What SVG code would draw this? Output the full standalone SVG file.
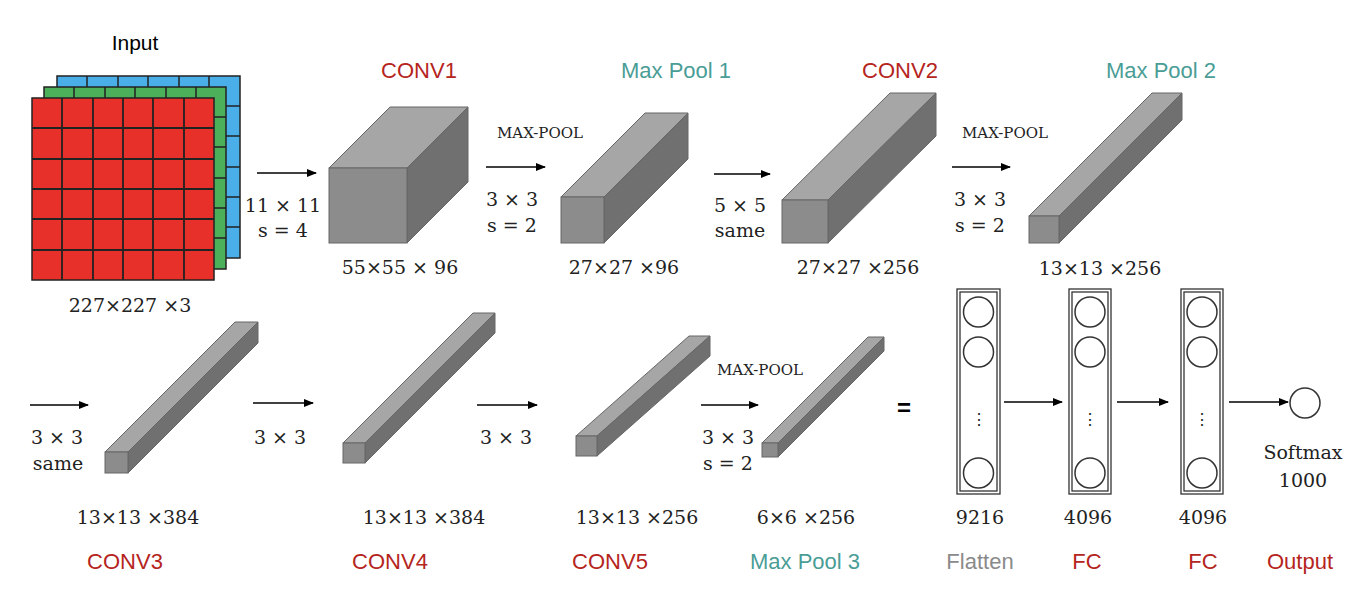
<svg xmlns="http://www.w3.org/2000/svg" width="1360" height="604" viewBox="0 0 1360 604">
<style>
.t{font-family:"Liberation Sans",Arial,sans-serif;font-size:22px;text-anchor:middle}
.r{fill:#b5251d}.g{fill:#4a9d96}
.s{font-family:"DejaVu Serif","Liberation Serif",serif;font-size:19px;text-anchor:middle;fill:#222}
.m{font-size:15px}
.f{fill:#8c8c8c;stroke:#666;stroke-width:1}.tp{fill:#a6a6a6;stroke:#666;stroke-width:1}.sd{fill:#707070;stroke:#666;stroke-width:1}
.a{stroke:#000;stroke-width:1.6;fill:none;marker-end:url(#ah)}
.col{fill:none;stroke:#333;stroke-width:1.3}
.c{fill:#fff;stroke:#333;stroke-width:1.5}
</style>
<defs>
<marker id="ah" markerWidth="10" markerHeight="8" refX="9" refY="4" orient="auto" markerUnits="userSpaceOnUse"><path d="M0,0L10,4L0,8z" fill="#000"/></marker>
</defs>
<rect width="1360" height="604" fill="#fff"/>
<g id="input">
<rect x="57" y="76" width="183" height="182" fill="#4aaee8" stroke="#222" stroke-width="1.5"/>
<path d="M57,106H240M57,136H240M57,167H240M57,197H240M57,227H240M87,76V258M118,76V258M148,76V258M179,76V258M209,76V258" stroke="#222" stroke-width="1.5"/>
<rect x="44" y="87" width="182" height="182" fill="#4caf5a" stroke="#222" stroke-width="1.5"/>
<path d="M44,117H226M44,147H226M44,178H226M44,208H226M44,238H226M74,87V269M105,87V269M135,87V269M166,87V269M196,87V269" stroke="#222" stroke-width="1.5"/>
<rect x="32" y="98" width="182" height="182" fill="#e8302a" stroke="#222" stroke-width="1.5"/>
<path d="M32,128H214M32,159H214M32,189H214M32,219H214M32,250H214M62,98V280M93,98V280M123,98V280M153,98V280M184,98V280" stroke="#222" stroke-width="1.8"/>
<text class="t" x="135" y="50" style="font-size:21px">Input</text>
<text class="s" x="130" y="312">227×227 ×3</text>
</g>
<g id="conv1">
<path class="tp" d="M329,168L390,107H468L407,168z"/><path class="sd" d="M407,168L468,107V182L407,243z"/><rect class="f" x="329" y="168" width="78" height="75"/>
<text class="t r" x="419" y="78">CONV1</text><text class="s" x="400" y="274">55×55 × 96</text>
</g>
<g id="pool1">
<path class="tp" d="M561,197L645,113H688L604,197z"/><path class="sd" d="M604,197L688,113V159L604,243z"/><rect class="f" x="561" y="197" width="43" height="46"/>
<text class="t g" x="676" y="78">Max Pool 1</text><text class="s" x="624" y="274">27×27 ×96</text>
</g>
<g id="conv2">
<path class="tp" d="M782,200L890,93H936L828,200z"/><path class="sd" d="M828,200L936,93V136L828,243z"/><rect class="f" x="782" y="200" width="46" height="43"/>
<text class="t r" x="900" y="78">CONV2</text><text class="s" x="858" y="274">27×27 ×256</text>
</g>
<g id="pool2">
<path class="tp" d="M1029,216L1152,93H1182L1059,216z"/><path class="sd" d="M1059,216L1182,93V120L1059,243z"/><rect class="f" x="1029" y="216" width="30" height="27"/>
<text class="t g" x="1161" y="78">Max Pool 2</text><text class="s" x="1100" y="275">13×13 ×256</text>
</g>
<g id="conv3">
<path class="tp" d="M105,452L235,322H258L128,452z"/><path class="sd" d="M128,452L258,322V343L128,473z"/><rect class="f" x="105" y="452" width="23" height="21"/>
<text class="s" x="138" y="524">13×13 ×384</text><text class="t r" x="125" y="569">CONV3</text>
</g>
<g id="conv4">
<path class="tp" d="M343,443L473,313H495L365,443z"/><path class="sd" d="M365,443L495,313V333L365,463z"/><rect class="f" x="343" y="443" width="22" height="20"/>
<text class="s" x="424" y="524">13×13 ×384</text><text class="t r" x="390" y="569">CONV4</text>
</g>
<g id="conv5">
<path class="tp" d="M576,436L689,336H710L597,436z"/><path class="sd" d="M597,436L710,336V356L597,456z"/><rect class="f" x="576" y="436" width="21" height="20"/>
<text class="s" x="637" y="524">13×13 ×256</text><text class="t r" x="610" y="569">CONV5</text>
</g>
<g id="pool3">
<path class="tp" d="M762,443L868,337H884L778,443z"/><path class="sd" d="M778,443L884,337V351L778,457z"/><rect class="f" x="762" y="443" width="16" height="14"/>
<text class="s" x="806" y="524">6×6 ×256</text><text class="t g" x="805" y="569">Max Pool 3</text>
</g>
<g id="flatten">
<rect class="col" x="957" y="289" width="43" height="205"/><rect class="col" x="960" y="292" width="37" height="199"/>
<circle class="c" cx="978.5" cy="312" r="15"/><circle class="c" cx="978.5" cy="352" r="15"/><circle class="c" cx="978.5" cy="473" r="15"/>
<text class="s" x="978.5" y="425" style="font-size:16px">⋮</text>
<text class="s" x="980" y="524">9216</text><text class="t" x="980" y="569" style="fill:#8a8a8a">Flatten</text>
</g>
<g id="fc1">
<rect class="col" x="1069" y="289" width="42" height="205"/><rect class="col" x="1072" y="292" width="36" height="199"/>
<circle class="c" cx="1090" cy="312" r="15"/><circle class="c" cx="1090" cy="352" r="15"/><circle class="c" cx="1090" cy="473" r="15"/>
<text class="s" x="1090" y="425" style="font-size:16px">⋮</text>
<text class="s" x="1088" y="524">4096</text><text class="t r" x="1087" y="569">FC</text>
</g>
<g id="fc2">
<rect class="col" x="1181" y="289" width="42" height="205"/><rect class="col" x="1184" y="292" width="36" height="199"/>
<circle class="c" cx="1202" cy="312" r="15"/><circle class="c" cx="1202" cy="352" r="15"/><circle class="c" cx="1202" cy="473" r="15"/>
<text class="s" x="1202" y="425" style="font-size:16px">⋮</text>
<text class="s" x="1203" y="524">4096</text><text class="t r" x="1203" y="569">FC</text>
</g>
<g id="output">
<circle class="c" cx="1305" cy="403" r="15"/>
<text class="s" x="1303" y="459">Softmax</text><text class="s" x="1303" y="487">1000</text>
<text class="t r" x="1300" y="569">Output</text>
</g>
<g id="connectors">
<path class="a" d="M257,173H316"/><path class="a" d="M486,167H545"/><path class="a" d="M714,174H770"/><path class="a" d="M952,167H1010"/>
<path class="a" d="M30,405H88"/><path class="a" d="M253,403H313"/><path class="a" d="M477,405H537"/><path class="a" d="M701,405H758"/>
<path class="a" d="M1004,402H1062"/><path class="a" d="M1117,402H1168"/><path class="a" d="M1229,402H1288"/>
<text class="s" x="283" y="212">11 × 11</text><text class="s" x="283" y="237">s = 4</text>
<text class="s m" x="540" y="138">MAX-POOL</text><text class="s" x="512" y="206">3 × 3</text><text class="s" x="512" y="232">s = 2</text>
<text class="s" x="740" y="212">5 × 5</text><text class="s" x="740" y="237">same</text>
<text class="s m" x="1005" y="138">MAX-POOL</text><text class="s" x="980" y="206">3 × 3</text><text class="s" x="980" y="232">s = 2</text>
<text class="s" x="57" y="444">3 × 3</text><text class="s" x="58" y="470">same</text>
<text class="s" x="280" y="444">3 × 3</text><text class="s" x="506" y="444">3 × 3</text>
<text class="s m" x="760" y="375">MAX-POOL</text><text class="s" x="728" y="444">3 × 3</text><text class="s" x="728" y="470">s = 2</text>
<text class="t" x="904" y="416" style="font-weight:bold;font-size:24px">=</text>
</g>
</svg>
